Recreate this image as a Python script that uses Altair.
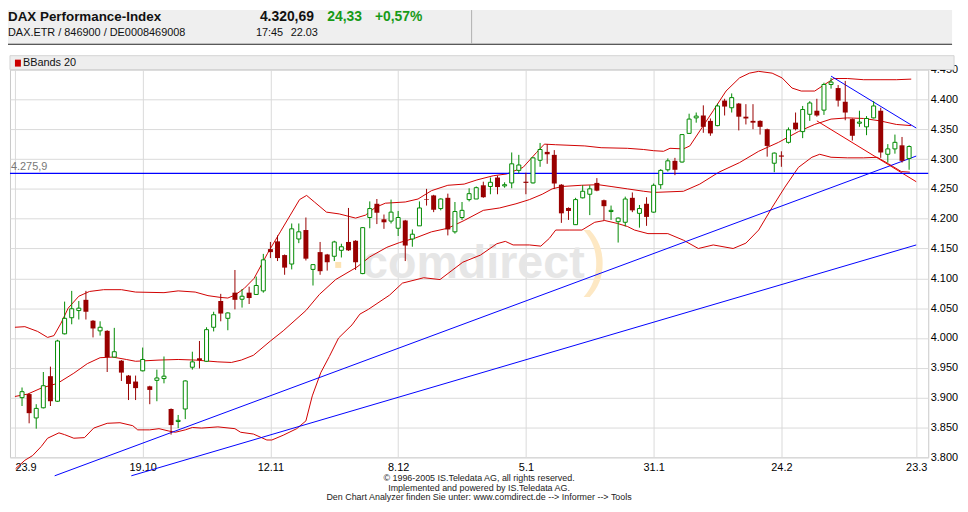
import altair as alt
import pandas as pd

# ---------------- data ----------------
# candle index 1..126 (trading days after 23.9), OHLC
OPEN = [3900, 3906, 3866, 3883, 3936, 3894, 4007, 4034, 4046, 4064,
        4029, 4012, 4012, 3968, 3962, 3937, 3927, 3945, 3919, 3929,
        3932, 3881, 3860, 3881, 3951, 3966, 3961, 4018, 4062, 4033,
        4076, 4065, 4076, 4073, 4079, 4149, 4162, 4139, 4124, 4166,
        4181, 4115, 4144, 4140, 4137, 4147, 4161, 4163, 4108, 4202,
        4225, 4199, 4196, 4184, 4197, 4166, 4188, 4233, 4239, 4217,
        4235, 4178, 4202, 4232, 4233, 4256, 4254, 4269, 4255, 4260,
        4281, 4262, 4260, 4298, 4312, 4307, 4257, 4218, 4190, 4235,
        4241, 4260, 4231, 4212, 4195, 4194, 4235, 4209, 4225, 4211,
        4257, 4282, 4297, 4295, 4343, 4369, 4373, 4364, 4356, 4398,
        4386, 4393, 4371, 4364, 4364, 4350, 4293, 4306, 4328, 4361,
        4346, 4375, 4381, 4382, 4425, 4419, 4396, 4367, 4360, 4354,
        4369, 4381, 4308, 4317, 4323, 4301]
HIGH = [3917, 3907, 3889, 3943, 3952, 3997, 4061, 4079, 4062, 4079,
        4030, 4028, 4013, 4017, 3963, 3938, 3937, 3984, 3920, 3947,
        3969, 3882, 3871, 3929, 3977, 3995, 4018, 4044, 4074, 4043,
        4114, 4082, 4086, 4103, 4141, 4161, 4172, 4140, 4192, 4192,
        4202, 4124, 4161, 4141, 4163, 4158, 4218, 4164, 4186, 4229,
        4233, 4207, 4232, 4213, 4198, 4182, 4229, 4250, 4240, 4234,
        4242, 4228, 4228, 4251, 4254, 4262, 4269, 4272, 4261, 4311,
        4307, 4277, 4303, 4327, 4325, 4315, 4258, 4219, 4235, 4256,
        4256, 4268, 4232, 4222, 4202, 4237, 4244, 4223, 4236, 4259,
        4283, 4301, 4302, 4342, 4376, 4378, 4390, 4368, 4393, 4401,
        4410, 4394, 4392, 4392, 4365, 4351, 4311, 4313, 4353, 4378,
        4389, 4397, 4401, 4428, 4436, 4424, 4431, 4368, 4381, 4372,
        4397, 4386, 4325, 4341, 4337, 4323]
LOW = [3886, 3857, 3848, 3882, 3886, 3893, 4006, 4023, 4031, 4031,
       4001, 4004, 3943, 3968, 3928, 3896, 3896, 3944, 3889, 3894,
       3924, 3838, 3849, 3864, 3947, 3949, 3960, 4011, 4028, 4013,
       4048, 4051, 4057, 4073, 4076, 4134, 4129, 4106, 4115, 4159,
       4130, 4088, 4106, 4113, 4129, 4135, 4146, 4114, 4107, 4184,
       4191, 4183, 4192, 4171, 4129, 4153, 4188, 4222, 4211, 4214,
       4172, 4175, 4198, 4229, 4233, 4235, 4241, 4241, 4252, 4251,
       4276, 4241, 4259, 4287, 4292, 4250, 4193, 4198, 4190, 4234,
       4206, 4246, 4197, 4198, 4160, 4187, 4211, 4185, 4188, 4210,
       4250, 4279, 4273, 4294, 4342, 4361, 4344, 4339, 4355, 4373,
       4378, 4348, 4358, 4350, 4341, 4304, 4278, 4287, 4326, 4348,
       4335, 4364, 4371, 4374, 4418, 4388, 4365, 4331, 4354, 4340,
       4368, 4302, 4294, 4309, 4294, 4282]
CLOSE = [3910, 3874, 3882, 3920, 3894, 3995, 4033, 4049, 4050, 4044,
         4016, 4018, 3968, 3977, 3942, 3923, 3916, 3964, 3913, 3933,
         3936, 3854, 3862, 3928, 3960, 3963, 4014, 4039, 4041, 4042,
         4064, 4070, 4067, 4088, 4131, 4144, 4134, 4118, 4183, 4178,
         4133, 4123, 4112, 4127, 4161, 4153, 4147, 4127, 4185, 4217,
         4210, 4194, 4211, 4202, 4155, 4174, 4218, 4232, 4215, 4233,
         4182, 4212, 4214, 4242, 4252, 4236, 4261, 4253, 4257, 4292,
         4290, 4260, 4302, 4316, 4308, 4259, 4209, 4213, 4232, 4246,
         4250, 4247, 4221, 4214, 4201, 4233, 4214, 4217, 4203, 4256,
         4281, 4297, 4282, 4341, 4367, 4372, 4354, 4343, 4389, 4388,
         4403, 4371, 4368, 4361, 4354, 4322, 4310, 4304, 4349, 4350,
         4383, 4394, 4373, 4425, 4429, 4398, 4378, 4339, 4362, 4368,
         4389, 4311, 4317, 4328, 4297, 4321]

# Bollinger bands (20): (day index, value)
UPPER_BAND = [(0, 4018), (1.4, 4019), (3.2, 4011), (4.6, 4001), (5.5, 4004), (6.5, 4025),
              (7.5, 4050), (9, 4070), (10.5, 4078), (12.5, 4081), (15, 4081), (17, 4077),
              (21, 4076), (23, 4079), (25.4, 4077), (27.2, 4071), (29, 4068), (30, 4067),
              (31, 4072), (32.3, 4083), (33.7, 4100), (35.6, 4142), (37.4, 4178), (38.8, 4206),
              (40.1, 4232), (41.1, 4239), (42.2, 4228), (43.9, 4211), (45.7, 4208), (48, 4201),
              (49.4, 4206), (50.8, 4219), (52.2, 4226), (55, 4228), (56.8, 4233), (58.7, 4247),
              (61, 4256), (63.3, 4258), (65.1, 4265), (67.4, 4272), (69.3, 4275), (71.6, 4286),
              (73.5, 4311), (74.6, 4325), (76.2, 4324), (80.3, 4322), (82.6, 4319), (86.3, 4318),
              (88.6, 4316), (90, 4314), (91.4, 4313), (92.3, 4318), (94.2, 4317), (95.1, 4322),
              (96.5, 4347), (98.4, 4381), (100.2, 4414), (102.1, 4436), (103.5, 4444), (104.8, 4447),
              (106.7, 4444), (108.1, 4436), (109.5, 4419), (110.8, 4414), (112.7, 4414), (114.1, 4425),
              (115.4, 4435), (117.3, 4435), (119.6, 4433), (121.9, 4433), (124.2, 4433), (126.3, 4434)]
MIDDLE_BAND = [(0, 3902), (1.8, 3906), (3.7, 3916), (6, 3924), (8.3, 3941), (10.2, 3957),
               (12, 3967), (13.8, 3968), (15.7, 3964), (17, 3961), (20.3, 3963), (23, 3964),
               (25.4, 3963), (28.6, 3960), (30.5, 3959), (31.9, 3963), (33.6, 3971), (36, 3995),
               (37.8, 4012), (41, 4046), (42.9, 4073), (45.2, 4098), (48.2, 4119), (50, 4136),
               (52.4, 4152), (54.2, 4160), (56.5, 4168), (58.7, 4178), (61, 4184), (63.3, 4197),
               (66, 4214), (68.3, 4218), (70.6, 4225), (72.5, 4232), (74.3, 4241), (75.7, 4250),
               (77.1, 4254), (79.8, 4256), (82.2, 4257), (84, 4254), (86.3, 4250), (88.6, 4246),
               (90, 4244), (94.2, 4246), (96.5, 4258), (99.2, 4278), (102.1, 4294), (104.8, 4313),
               (107.6, 4328), (110.4, 4346), (112.7, 4358), (115, 4367), (117.3, 4369), (119.6, 4368),
               (121.9, 4364), (124.2, 4358), (126.3, 4356)]
LOWER_BAND = [(0.1, 3781), (1.4, 3795), (2.5, 3803), (3.7, 3818), (4.6, 3832), (6.2, 3841),
              (7, 3838), (8.3, 3832), (9.8, 3833), (11.1, 3849), (13, 3857), (14.8, 3858),
              (16.6, 3853), (17.3, 3846), (19, 3846), (20.3, 3848), (21.7, 3844), (22.6, 3842),
              (24, 3846), (25, 3850), (26.3, 3849), (28.6, 3851), (31, 3848), (31.8, 3842),
              (33.6, 3839), (35.5, 3829), (36.2, 3829), (37.8, 3837), (39.7, 3848), (41, 3861),
              (41.9, 3903), (43.1, 3942), (44.3, 3969), (45.6, 4000), (47.5, 4022), (48.6, 4040),
              (49.8, 4048), (52.8, 4072), (54.6, 4092), (57.6, 4101), (59.9, 4098), (63.1, 4127),
              (65.6, 4139), (67.9, 4158), (69.1, 4162), (70.2, 4156), (72.5, 4156), (74.1, 4154),
              (75.3, 4167), (76.2, 4181), (78.1, 4181), (79.9, 4181), (81.7, 4194), (83.1, 4197),
              (84.9, 4192), (86.3, 4187), (87.3, 4181), (89.2, 4175), (92, 4175), (94.2, 4164),
              (96.3, 4150), (98.4, 4156), (101.2, 4150), (103, 4159), (104.8, 4181), (106.7, 4219),
              (108.5, 4253), (110.4, 4286), (112.3, 4303), (113.4, 4308), (115, 4303), (117.3, 4302),
              (119.6, 4302), (121.5, 4303), (123.1, 4292), (124.9, 4279), (126.1, 4278)]

# drawn trend lines: (name, start idx, start value, end idx, end value, colour)
TRENDLINES = [("up1", 5.6, 3769, 127, 4305, "#0000ff"),
              ("up2", 16.4, 3769, 127, 4156, "#0000ff"),
              ("down_blue", 115, 4439, 127, 4352, "#0000ff"),
              ("down_red", 113, 4364, 127, 4262, "#e00000")]
LEVEL = 4275.9
LEVEL_LABEL = "4.275,9"

DATE_TICKS = [0, 18, 36, 54, 72, 90, 108, 127]
DATE_LABELS = ["23.9", "19.10", "12.11", "8.12", "5.1", "31.1", "24.2", "23.3"]
Y_TICKS = list(range(3800, 4451, 50))

TITLE = "DAX Performance-Index"
SUBTITLE = "DAX.ETR / 846900 / DE0008469008"
LAST = "4.320,69"
CHANGE = "24,33"
CHANGE_PCT = "+0,57%"
TIME = "17:45"
DATE = "22.03"
LEGEND = "BBands 20"
FOOTER = ["\u00a9 1996-2005 IS.Teledata AG, all rights reserved.",
          "Implemented and powered by IS.Teledata AG.",
          "Den Chart Analyzer finden Sie unter: www.comdirect.de --> Informer --> Tools"]

# ---------------- build ----------------
RED = "#990000"
GREEN = "#008a00"
BAND = "#d00000"
FONT = "Liberation Sans"

df = pd.DataFrame({"idx": list(range(1, len(OPEN) + 1)), "open": OPEN, "high": HIGH,
                   "low": LOW, "close": CLOSE})
df["dir"] = ["up" if c >= o else "down" for o, c in zip(df["open"], df["close"])]
df_up = df[df["dir"] == "up"]
df_down = df[df["dir"] == "down"]

bands = []
for name, pts in [("upper", UPPER_BAND), ("middle", MIDDLE_BAND), ("lower", LOWER_BAND)]:
    for i, v in pts:
        bands.append({"band": name, "idx": i, "v": v})
df_bands = pd.DataFrame(bands)

tl = []
for name, x0, v0, x1, v1, col in TRENDLINES:
    tl.append({"seg": name, "idx": x0, "v": v0, "col": col})
    tl.append({"seg": name, "idx": x1, "v": v1, "col": col})
df_tl = pd.DataFrame(tl)

label_expr = "".join(f"datum.value == {v} ? '{l}' : " for v, l in zip(DATE_TICKS, DATE_LABELS)) + "''"

xs = alt.Scale(domain=[0, 128], nice=False, zero=False)
ys = alt.Scale(domain=[3800, 4450], nice=False, zero=False)
xaxis = alt.Axis(values=DATE_TICKS, labelExpr=label_expr, grid=True, ticks=False, domain=False,
                 labelFlush=10, labelPadding=4, labelOverlap=False, title=None)
yaxis = alt.Axis(orient="right", values=Y_TICKS, labelExpr="format(datum.value/1000, '.3f')",
                 grid=True, ticks=False, domain=False, labelPadding=2, labelOverlap=False,
                 title=None)


def X(f):
    return alt.X(f"{f}:Q", scale=xs, axis=xaxis)


def Y(f):
    return alt.Y(f"{f}:Q", scale=ys, axis=yaxis)


one = pd.DataFrame({"a": [0]})


def txt(s, x, y, size=11, weight="normal", color="#000000", align="left",
        baseline="middle", font=FONT):
    return alt.Chart(one).mark_text(text=s, align=align, baseline=baseline, fontSize=size,
                                    fontWeight=weight, color=color, font=font).encode(
        x=alt.value(x), y=alt.value(y))


def rect(x0, x1, y0, y1, fill, stroke=None):
    kw = {"fill": fill}
    if stroke:
        kw["stroke"] = stroke
        kw["strokeWidth"] = 1
    return alt.Chart(one).mark_rect(**kw).encode(
        x=alt.value(x0), x2=alt.value(x1), y=alt.value(y0), y2=alt.value(y1))


# header & legend decorations (pixel positions relative to plot origin)
header_bg = rect(-2, 950, -60, -26, "#efefef")
header_line = alt.Chart(one).mark_rule(color="#222222", strokeWidth=1.2).encode(
    x=alt.value(-2), x2=alt.value(950), y=alt.value(-25.5))
header_sep = alt.Chart(one).mark_rule(color="#b0b0b0", strokeWidth=1).encode(
    x=alt.value(465.5), y=alt.value(-60), y2=alt.value(-26))
legend_bg = rect(0, 952, -14, 0, "#eeeeee", "#d2d2d2")
legend_sq = rect(5, 11, -10, -3, "#cc0000")

texts = [
    txt(TITLE, -2, -53, size=13.5, weight="bold", color="#111111"),
    txt(SUBTITLE, -2, -37, size=11, color="#111111"),
    txt(LAST, 252, -53, size=14, weight="bold", color="#111111"),
    txt(CHANGE, 320, -53, size=14, weight="bold", color="#179a17"),
    txt(CHANGE_PCT, 368, -53, size=14, weight="bold", color="#179a17"),
    txt(TIME, 248, -37, size=11, color="#111111"),
    txt(DATE, 283, -37, size=11, color="#111111"),
    txt(LEGEND, 13, -7, size=11, color="#111111"),
    txt(LEVEL_LABEL, 1, 98, size=11, color="#777777"),
]

watermark = [
    rect(328, 334, 194, 200, "#fde3b3"),
    txt("comdirect", 355, 210, size=47, weight="bold", color="#e6e6e6", baseline="alphabetic"),
    txt(")", 578, 214, size=72, color="#fde8c4", baseline="alphabetic"),
]

footer = [txt(s, 473, y, size=9, color="#222222", align="center")
          for s, y in zip(FOOTER, [411.5, 421.5, 431.5])]

band_lines = alt.Chart(df_bands).mark_line(color=BAND, strokeWidth=1).encode(
    x=X("idx"), y=Y("v"), detail="band:N")
trend_lines = alt.Chart(df_tl).mark_line(strokeWidth=1).encode(
    x=X("idx"), y=Y("v"), detail="seg:N", color=alt.Color("col:N", scale=None, legend=None))
level = alt.Chart(pd.DataFrame({"v": [LEVEL]})).mark_rule(color="#0000ff", strokeWidth=1.2).encode(
    y=Y("v"))

wicks = alt.Chart(df).mark_rule(strokeWidth=1).encode(
    x=X("idx"), y=Y("low"), y2="high",
    color=alt.Color("dir:N", scale=alt.Scale(domain=["up", "down"], range=[GREEN, RED]),
                    legend=None))
body_down = alt.Chart(df_down).mark_bar(size=5, color=RED).encode(
    x=X("idx"), y=Y("open"), y2="close")
body_up = alt.Chart(df_up).mark_bar(size=4, fill="white", stroke=GREEN, strokeWidth=1).encode(
    x=X("idx"), y=Y("open"), y2="close")

chart = alt.layer(
    header_bg, header_line, header_sep, legend_bg, legend_sq,
    *watermark,
    band_lines, trend_lines, level,
    wicks, body_down, body_up,
    *texts, *footer,
).properties(
    width=926, height=391,
    autosize=alt.AutoSizeParams(type="none"),
    padding={"left": 2, "top": 60, "right": 32, "bottom": 45},
    background="white",
).configure_view(
    stroke="#c8c8c8", strokeWidth=1
).configure_axis(
    gridColor="#dadada", gridWidth=1, labelFont=FONT, labelFontSize=11, labelColor="#000000"
)

chart.save("out.html", embed_options={"renderer": "svg", "actions": False})
